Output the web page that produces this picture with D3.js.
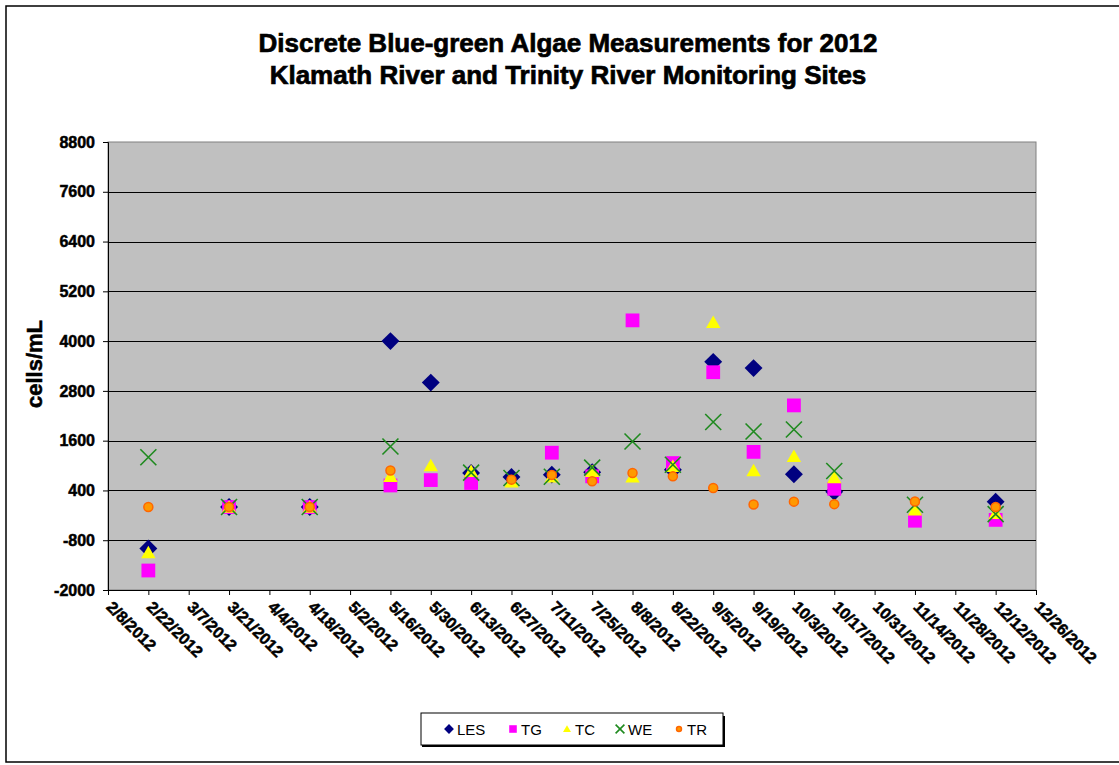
<!DOCTYPE html>
<html>
<head>
<meta charset="utf-8">
<script src="https://cdn.jsdelivr.net/npm/d3@7"></script>
<style>
  html, body { margin: 0; padding: 0; background: #ffffff; }
  svg { display: block; font-family: "Liberation Sans", Arial, sans-serif; }
</style>
</head>
<body>
<svg id="chart" width="1119" height="765"></svg>
<script>
// Sampling dates (one row per site visit)
const sampleDates = ["2/22/2012", "3/21/2012", "4/18/2012", "5/16/2012", "5/30/2012", "6/13/2012",
  "6/27/2012", "7/11/2012", "7/25/2012", "8/8/2012", "8/22/2012", "9/5/2012", "9/19/2012",
  "10/3/2012", "10/17/2012", "11/14/2012", "12/12/2012"];

// cells/mL at each site, aligned with sampleDates (null = no sample)
const LES = [-1000, 0, 0, 4000, 3000, 820, 725, 780, 840, null, 900, 3500, 3350, 790, 370, null, 130];
const TG  = [-1530, 0, 0, 520, 650, 580, null, 1310, 740, 4500, 1060, 3250, 1330, 2450, 440, -330, -310];
const TC  = [-1100, 0, 0, 740, 1000, 860, 610, 730, 860, 725, 980, 4450, 880, 1220, 710, -70, -150];
const WE  = [1200, 0, 0, 1460, null, 830, 700, 730, 950, 1580, 1020, 2050, 1820, 1870, 870, 55, -170];
const TR  = [0, 0, 0, 880, null, null, 660, 775, 620, 820, 740, 460, 60, 130, 70, 135, 0];

const seriesNames = ["LES", "TG", "TC", "WE", "TR"];
const seriesValues = [LES, TG, TC, WE, TR];

// Axis ticks
const yTicks = [-2000, -800, 400, 1600, 2800, 4000, 5200, 6400, 7600, 8800];
const xTickLabels = ["2/8/2012", "2/22/2012", "3/7/2012", "3/21/2012", "4/4/2012", "4/18/2012",
  "5/2/2012", "5/16/2012", "5/30/2012", "6/13/2012", "6/27/2012", "7/11/2012", "7/25/2012",
  "8/8/2012", "8/22/2012", "9/5/2012", "9/19/2012", "10/3/2012", "10/17/2012", "10/31/2012",
  "11/14/2012", "11/28/2012", "12/12/2012", "12/26/2012"];

const titleLines = ["Discrete Blue-green Algae Measurements for 2012",
  "Klamath River and Trinity River Monitoring Sites"];
const yTitle = "cells/mL";

const parse = d3.utcParse("%m/%d/%Y");
const fmt = d3.utcFormat("%-m/%-d/%Y");

const svg = d3.select("#chart");
const W = 1119;
const plot = { left: 108, right: 1036, top: 142, bottom: 590 };

// Outer chart frame
svg.append("rect").attr("x", 6).attr("y", 6).attr("width", W).attr("height", 756)
  .attr("fill", "#fff").attr("stroke", "#000").attr("stroke-width", 1.5);

// Title
const title = svg.append("text").attr("text-anchor", "middle")
  .attr("font-weight", "bold").attr("font-size", 26).attr("fill", "#000")
  .attr("stroke", "#000").attr("stroke-width", 0.7);
titleLines.forEach((t, i) => {
  title.append("tspan").attr("x", 568).attr("y", 52 + i * 32).text(t);
});

const xTickDates = xTickLabels.map(parse);
const x = d3.scaleUtc()
  .domain([xTickDates[0], xTickDates[xTickDates.length - 1]])
  .range([plot.left, plot.right]);
const y = d3.scaleLinear().domain([-2000, 8800]).range([plot.bottom, plot.top]);

// Plot area
svg.append("rect").attr("x", plot.left).attr("y", plot.top)
  .attr("width", plot.right - plot.left).attr("height", plot.bottom - plot.top)
  .attr("fill", "#c0c0c0").attr("stroke", "#808080").attr("stroke-width", 1);

// Horizontal gridlines
svg.append("g").selectAll("line").data(yTicks.filter(v => v > -2000 && v < 8800)).join("line")
  .attr("x1", plot.left).attr("x2", plot.right)
  .attr("y1", d => Math.round(y(d)) + 0.5).attr("y2", d => Math.round(y(d)) + 0.5)
  .attr("stroke", "#000").attr("stroke-width", 1);

// Y axis
const yAxis = svg.append("g").attr("transform", `translate(${plot.left},0)`)
  .call(d3.axisLeft(y).tickValues(yTicks).tickSize(5).tickPadding(8).tickFormat(d => String(d)));
yAxis.select(".domain").attr("stroke", "#000");
yAxis.selectAll(".tick line").attr("stroke", "#000");
yAxis.selectAll(".tick text").attr("font-family", "Liberation Sans, Arial, sans-serif")
  .attr("font-size", 16).attr("font-weight", "bold").attr("fill", "#000")
  .attr("stroke", "#000").attr("stroke-width", 0.5);

// X axis
const xAxis = svg.append("g").attr("transform", `translate(0,${plot.bottom})`)
  .call(d3.axisBottom(x).tickValues(xTickDates).tickSize(5).tickFormat(fmt));
xAxis.select(".domain").attr("stroke", "#000");
xAxis.selectAll(".tick line").attr("stroke", "#000");
xAxis.selectAll(".tick text")
  .attr("font-family", "Liberation Sans, Arial, sans-serif")
  .attr("font-size", 16).attr("font-weight", "bold").attr("fill", "#000")
  .attr("stroke", "#000").attr("stroke-width", 0.5)
  .attr("text-anchor", "start").attr("dy", null).attr("y", 0)
  .attr("transform", "translate(-3,18) rotate(45)");

// Y axis title
svg.append("text").attr("transform", "translate(42,364) rotate(-90)")
  .attr("text-anchor", "middle").attr("font-size", 22).attr("font-weight", "bold")
  .attr("stroke", "#000").attr("stroke-width", 0.5)
  .text(yTitle);

// Marker definitions
const crossPath = s => `M${-s},${-s}L${s},${s}M${-s},${s}L${s},${-s}`;
const markers = {
  LES: { draw: (g, k) => g.append("path").attr("d", d3.symbol(d3.symbolSquare, 160 * k * k)())
      .attr("transform", "rotate(45)").attr("fill", "#000080") },
  TG: { draw: (g, k) => g.append("path").attr("d", d3.symbol(d3.symbolSquare, 190 * k * k)())
      .attr("fill", "#ff00ff") },
  TC: { draw: (g, k) => g.append("path").attr("d", d3.symbol(d3.symbolTriangle, 90 * k * k)())
      .attr("transform", `translate(0,${1.5 * k})`).attr("fill", "#ffff00") },
  WE: { draw: (g, k) => g.append("path").attr("d", crossPath(8 * k))
      .attr("fill", "none").attr("stroke", "#1f8a1f").attr("stroke-width", 1.6) },
  TR: { draw: (g, k) => g.append("circle").attr("r", 4.5 * k)
      .attr("fill", "#ff9900").attr("stroke", "#ff6600").attr("stroke-width", 1.5) }
};

// Data points, series drawn in order so later ones sit on top
const sampleParsed = sampleDates.map(parse);
seriesNames.forEach((name, si) => {
  const pts = seriesValues[si]
    .map((v, i) => ({ date: sampleParsed[i], value: v }))
    .filter(d => d.value !== null);
  const g = svg.append("g").attr("class", "series-" + name);
  pts.forEach(d => {
    const m = g.append("g").attr("transform", `translate(${x(d.date)},${y(d.value)})`);
    markers[name].draw(m, 1);
  });
});

// Legend
const legend = svg.append("g");
legend.append("rect").attr("x", 422).attr("y", 716).attr("width", 303).attr("height", 31)
  .attr("fill", "#000");
legend.append("rect").attr("x", 421).attr("y", 713).attr("width", 302).attr("height", 32)
  .attr("fill", "#fff").attr("stroke", "#000").attr("stroke-width", 1);
const legendX = [449, 513, 567, 620, 679];
seriesNames.forEach((name, i) => {
  const m = legend.append("g").attr("transform", `translate(${legendX[i]},729)`);
  markers[name].draw(m, 0.55);
  legend.append("text").attr("x", legendX[i] + 8).attr("y", 734.5)
    .attr("font-size", 15).attr("fill", "#000").text(name);
});
</script>
</body>
</html>
